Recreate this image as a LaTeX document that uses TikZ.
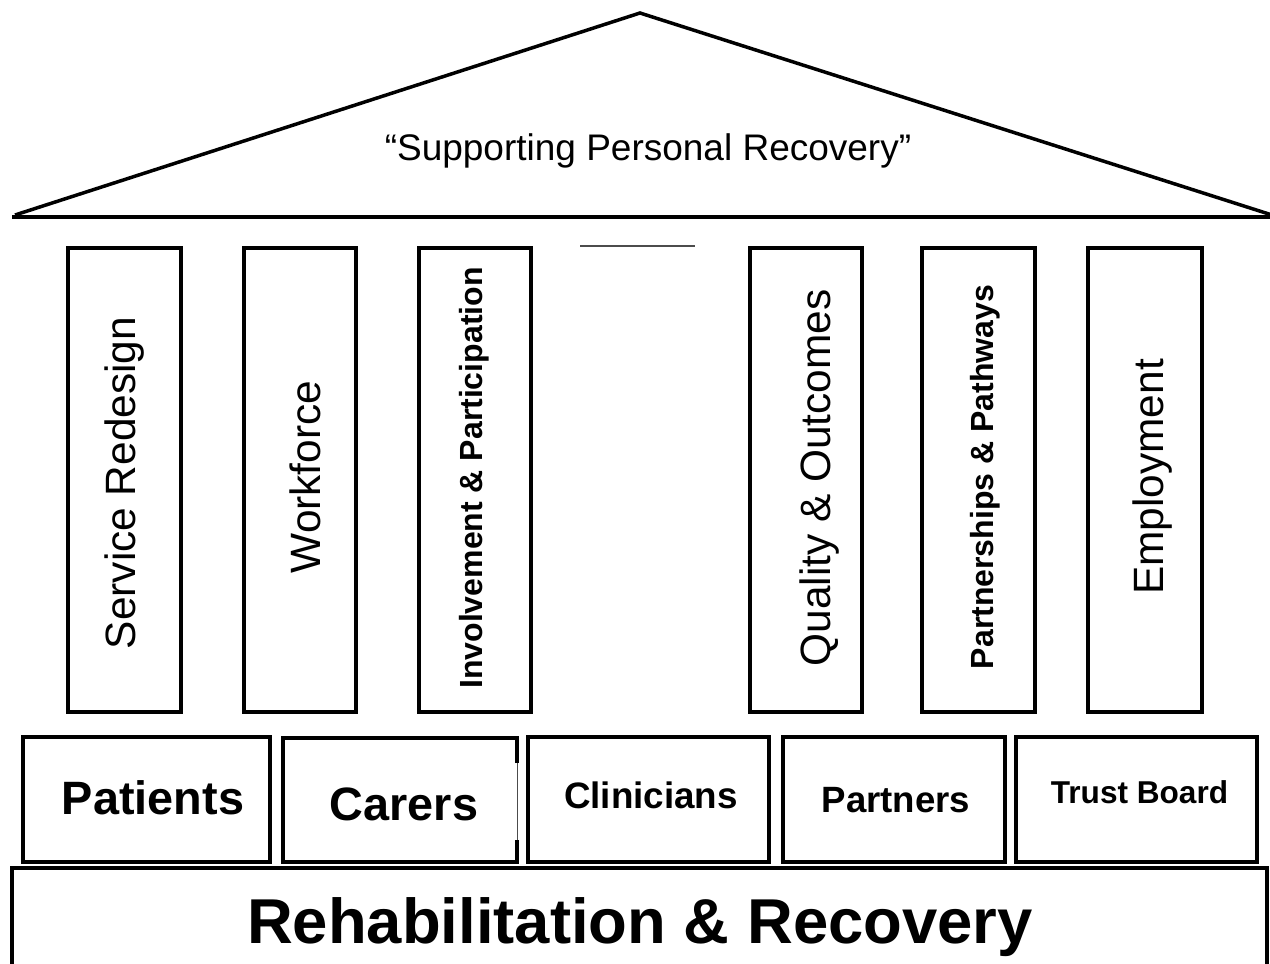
\documentclass[tikz,border=0pt]{standalone}
\usepackage{fontspec}
\setmainfont{Liberation Sans}

\tikzset{
    wall/.style={draw, line width=1.75pt},
    gapline/.style={draw, line width=0.8pt, black!70},
    pillarname/.style={rotate=90, anchor=base, inner sep=0pt, font=\fontsize{21.2pt}{24pt}\selectfont},
    pillarbold/.style={pillarname, font=\bfseries\fontsize{16pt}{19pt}\selectfont},
    tiername/.style={anchor=base, inner sep=0pt, font=\bfseries}
}

\begin{document}
\begin{tikzpicture}[x=0.5pt,y=-0.5pt]
    \useasboundingbox (0,0) rectangle (1270,964);
    % Draw roof
    \draw[wall, line join=miter] (15,215) -- (640,13) -- (1272,215);
    \draw[wall] (12,217) -- (1270,217); % roof base
    \node[anchor=base, inner sep=0pt, font=\fontsize{18.5pt}{22pt}\selectfont] (motto) at (648,160) {“Supporting Personal Recovery”};
    % Draw pillars
    \draw[wall] (68,248) rectangle (181,712);
    \draw[wall] (244,248) rectangle (356,712);
    \draw[wall] (419,248) rectangle (531,712);
    \draw[gapline] (580,246) -- (695,246); % pillar top, no pillar below
    \draw[wall] (750,248) rectangle (862,712);
    \draw[wall] (922,248) rectangle (1035,712);
    \draw[wall] (1088,248) rectangle (1202,712);
    \node[pillarname] (redesign) at (135,483) {Service Redesign};
    \node[pillarname] (workforce) at (320,477) {Workforce};
    \node[pillarbold] (involvement) at (482,478) {Involvement \& Participation};
    \node[pillarname] (quality) at (830,478) {Quality \& Outcomes};
    \node[pillarbold] (pathways) at (993,477) {Partnerships \& Pathways};
    \node[pillarname] (employment) at (1163,477) {Employment};
    % Draw stakeholder boxes
    \draw[wall] (23,737) rectangle (270,862);
    \draw[wall] (517,763) -- (517,738) -- (283,738) -- (283,862) -- (517,862) -- (517,840);
    \draw[gapline, line width=0.5pt] (517,763) -- (517,840); % broken edge
    \draw[wall] (528,737) rectangle (769,862);
    \draw[wall] (783,737) rectangle (1005,862);
    \draw[wall] (1016,737) rectangle (1257,862);
    \node[tiername, font=\bfseries\fontsize{23.4pt}{28pt}\selectfont] (patients) at (153,814) {Patients};
    \node[tiername, font=\bfseries\fontsize{23.4pt}{28pt}\selectfont] (carers) at (404,820) {Carers};
    \node[tiername, font=\bfseries\fontsize{18.4pt}{22pt}\selectfont] (clinicians) at (651,808) {Clinicians};
    \node[tiername, font=\bfseries\fontsize{18.3pt}{22pt}\selectfont] (partners) at (896,812) {Partners};
    \node[tiername, font=\bfseries\fontsize{15.8pt}{19pt}\selectfont] (board) at (1139.5,803) {Trust Board};
    % Draw foundation
    \draw[wall] (12,990) -- (12,868) -- (1267,868) -- (1267,990);
    \node[tiername, font=\bfseries\fontsize{31.7pt}{38pt}\selectfont] (rehab) at (640,943) {Rehabilitation \& Recovery};
\end{tikzpicture}
\end{document}
